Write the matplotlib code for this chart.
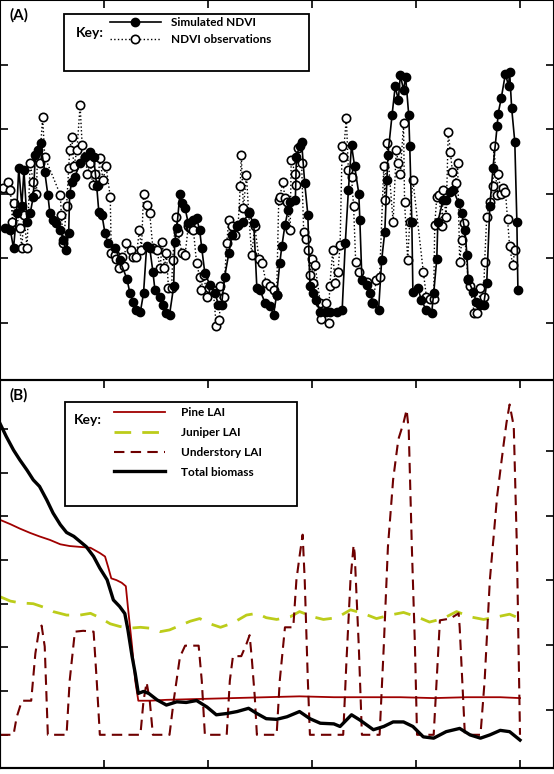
import matplotlib
matplotlib.use("Agg")
import matplotlib.pyplot as plt
from matplotlib.patches import Rectangle

# ---- Panel A data (x in years, NDVI) ----
sim_x = [0.05,0.10,0.13,0.16,0.18,0.21,0.23,0.26,0.29,0.32,0.34,0.37,0.39,0.43,0.46,0.48,0.51,0.54,0.58,0.61,0.63,0.66,0.67,0.69,0.72,0.77,0.82,0.87,0.90,0.93,0.95,0.98,1.01,1.04,1.11,1.15,1.22,1.25,1.28,1.31,1.35,1.38,1.41,1.44,1.47,1.49,1.54,1.57,1.60,1.63,1.67,1.68,1.70,1.73,1.75,1.78,1.81,1.86,1.89,1.92,1.94,1.97,2.02,2.07,2.10,2.13,2.16,2.20,2.23,2.28,2.34,2.39,2.44,2.47,2.50,2.55,2.60,2.63,2.66,2.69,2.71,2.74,2.77,2.79,2.84,2.85,2.88,2.90,2.93,2.96,2.98,3.01,3.04,3.08,3.13,3.17,3.24,3.29,3.32,3.35,3.38,3.41,3.45,3.46,3.48,3.53,3.56,3.59,3.64,3.67,3.70,3.72,3.73,3.77,3.80,3.83,3.85,3.88,3.90,3.93,3.94,3.96,3.97,4.02,4.05,4.10,4.15,4.17,4.20,4.21,4.26,4.29,4.33,4.36,4.41,4.44,4.47,4.49,4.50,4.55,4.58,4.62,4.65,4.68,4.71,4.74,4.78,4.79,4.82,4.86,4.89,4.90,4.92,4.95,4.97,4.98]
sim_y = [0.246,0.243,0.215,0.269,0.339,0.280,0.336,0.256,0.269,0.295,0.360,0.367,0.378,0.334,0.298,0.269,0.259,0.254,0.243,0.228,0.212,0.238,0.300,0.318,0.326,0.347,0.357,0.365,0.357,0.311,0.272,0.267,0.238,0.223,0.215,0.197,0.168,0.145,0.132,0.119,0.117,0.145,0.218,0.215,0.179,0.150,0.140,0.127,0.114,0.112,0.156,0.225,0.246,0.300,0.285,0.277,0.254,0.259,0.262,0.243,0.215,0.176,0.158,0.145,0.127,0.127,0.171,0.207,0.236,0.249,0.256,0.269,0.254,0.153,0.150,0.130,0.125,0.112,0.143,0.192,0.218,0.251,0.274,0.287,0.290,0.357,0.373,0.380,0.316,0.267,0.156,0.145,0.135,0.117,0.117,0.117,0.117,0.119,0.223,0.305,0.375,0.342,0.300,0.259,0.166,0.158,0.145,0.130,0.119,0.197,0.241,0.321,0.360,0.422,0.466,0.445,0.484,0.460,0.481,0.422,0.373,0.256,0.148,0.153,0.135,0.119,0.114,0.145,0.199,0.256,0.290,0.290,0.303,0.305,0.285,0.269,0.243,0.205,0.166,0.148,0.132,0.127,0.127,0.161,0.280,0.339,0.404,0.424,0.448,0.486,0.466,0.489,0.432,0.380,0.256,0.150]

obs_x = [0.03,0.08,0.10,0.12,0.13,0.19,0.21,0.23,0.26,0.29,0.32,0.35,0.36,0.38,0.41,0.43,0.58,0.59,0.61,0.64,0.66,0.67,0.69,0.71,0.74,0.77,0.79,0.82,0.84,0.87,0.89,0.91,0.94,0.96,0.99,1.02,1.06,1.07,1.11,1.12,1.14,1.17,1.19,1.21,1.26,1.28,1.31,1.34,1.36,1.38,1.41,1.44,1.47,1.51,1.54,1.56,1.58,1.60,1.62,1.65,1.66,1.69,1.71,1.75,1.78,1.81,1.83,1.84,1.86,1.89,1.92,1.93,1.96,1.99,2.01,2.05,2.08,2.11,2.12,2.15,2.18,2.20,2.23,2.26,2.29,2.31,2.32,2.34,2.37,2.39,2.42,2.45,2.49,2.52,2.56,2.60,2.63,2.66,2.68,2.69,2.72,2.74,2.76,2.79,2.80,2.84,2.85,2.87,2.90,2.92,2.94,2.96,2.98,3.00,3.01,3.03,3.08,3.09,3.13,3.16,3.17,3.20,3.22,3.25,3.27,3.29,3.30,3.33,3.35,3.38,3.40,3.42,3.45,3.53,3.58,3.62,3.65,3.69,3.70,3.72,3.78,3.81,3.83,3.85,3.88,3.89,3.92,3.94,3.97,4.07,4.10,4.13,4.17,4.18,4.20,4.22,4.25,4.26,4.29,4.31,4.33,4.35,4.38,4.40,4.42,4.44,4.46,4.50,4.52,4.56,4.59,4.62,4.65,4.66,4.68,4.71,4.74,4.75,4.78,4.79,4.82,4.84,4.86,4.88,4.90,4.93,4.95]
obs_y = [0.308,0.318,0.305,0.256,0.285,0.246,0.215,0.267,0.215,0.347,0.318,0.300,0.357,0.347,0.419,0.357,0.298,0.267,0.223,0.280,0.339,0.367,0.388,0.342,0.367,0.437,0.375,0.357,0.331,0.347,0.313,0.331,0.313,0.355,0.321,0.342,0.295,0.207,0.205,0.199,0.184,0.202,0.187,0.223,0.212,0.202,0.202,0.243,0.212,0.300,0.282,0.269,0.215,0.212,0.184,0.225,0.184,0.207,0.153,0.153,0.197,0.264,0.241,0.207,0.205,0.249,0.246,0.246,0.243,0.192,0.171,0.150,0.174,0.140,0.153,0.150,0.094,0.104,0.156,0.140,0.223,0.259,0.249,0.236,0.251,0.311,0.360,0.277,0.329,0.272,0.205,0.249,0.199,0.192,0.161,0.156,0.150,0.143,0.290,0.295,0.318,0.293,0.287,0.243,0.352,0.331,0.313,0.370,0.347,0.241,0.230,0.212,0.174,0.199,0.161,0.189,0.130,0.106,0.130,0.099,0.156,0.212,0.161,0.179,0.220,0.373,0.357,0.417,0.336,0.326,0.280,0.194,0.179,0.163,0.130,0.166,0.171,0.342,0.290,0.378,0.256,0.367,0.347,0.331,0.409,0.287,0.197,0.256,0.321,0.179,0.140,0.137,0.137,0.251,0.295,0.298,0.249,0.305,0.264,0.396,0.365,0.334,0.316,0.347,0.194,0.228,0.254,0.168,0.156,0.114,0.114,0.153,0.140,0.194,0.264,0.287,0.311,0.373,0.298,0.331,0.300,0.308,0.303,0.261,0.218,0.189,0.212]

# ---- Panel B data ----
pine_x = [0.00,0.10,0.19,0.29,0.38,0.48,0.58,0.67,0.77,0.87,0.96,1.01,1.04,1.07,1.12,1.17,1.21,1.23,1.27,1.30,1.33,1.44,1.60,1.92,2.24,2.56,2.88,3.21,3.53,3.85,4.17,4.49,4.81,5.00]
pine_y = [2.46,2.41,2.36,2.31,2.27,2.23,2.18,2.16,2.15,2.14,2.08,2.04,1.92,1.79,1.77,1.74,1.70,1.46,1.01,0.62,0.39,0.39,0.40,0.41,0.42,0.43,0.44,0.43,0.43,0.43,0.42,0.43,0.43,0.42]

jun_x = [0.00,0.10,0.19,0.32,0.42,0.51,0.64,0.77,0.87,0.96,1.06,1.15,1.25,1.35,1.44,1.54,1.63,1.73,1.83,1.92,2.02,2.12,2.24,2.37,2.47,2.56,2.66,2.79,2.88,3.01,3.11,3.24,3.37,3.49,3.62,3.75,3.88,4.01,4.13,4.26,4.39,4.52,4.65,4.78,4.90,5.00]
jun_y = [1.58,1.53,1.51,1.50,1.46,1.41,1.37,1.37,1.39,1.34,1.27,1.24,1.22,1.23,1.22,1.18,1.20,1.25,1.30,1.33,1.27,1.23,1.28,1.37,1.39,1.34,1.32,1.35,1.41,1.35,1.32,1.34,1.43,1.39,1.33,1.37,1.40,1.35,1.29,1.33,1.41,1.35,1.32,1.35,1.38,1.33]

und_x = [0.00,0.13,0.16,0.21,0.30,0.34,0.37,0.40,0.43,0.46,0.64,0.67,0.72,0.80,0.90,0.93,0.96,1.35,1.38,1.41,1.44,1.47,1.63,1.67,1.73,1.78,1.91,1.94,1.97,2.18,2.21,2.24,2.32,2.37,2.40,2.42,2.45,2.47,2.66,2.69,2.74,2.82,2.85,2.88,2.91,2.93,2.96,2.98,3.30,3.33,3.37,3.40,3.41,3.45,3.48,3.65,3.69,3.73,3.78,3.83,3.88,3.91,3.93,3.96,3.99,4.01,4.17,4.23,4.33,4.41,4.42,4.47,4.62,4.66,4.71,4.78,4.84,4.87,4.90,4.94,4.97,5.00]
und_y = [0.00,0.00,0.20,0.39,0.39,0.93,1.16,1.25,1.01,0.00,0.00,0.62,1.18,1.19,1.18,0.62,0.00,0.00,0.39,0.60,0.39,0.00,0.00,0.39,0.89,1.02,1.02,0.62,0.00,0.00,0.62,0.90,0.90,1.04,1.14,0.89,0.43,0.00,0.00,0.62,1.23,1.23,1.77,2.04,2.29,1.77,0.62,0.00,0.00,0.81,1.77,2.17,2.08,1.01,0.00,0.00,1.01,2.15,2.92,3.38,3.57,3.72,3.49,2.15,1.01,0.00,0.00,1.31,1.33,1.39,1.23,0.00,0.00,0.62,1.77,2.73,3.30,3.57,3.78,3.53,2.15,0.00]

bio_x = [0.00,0.06,0.13,0.19,0.26,0.32,0.38,0.45,0.51,0.58,0.64,0.71,0.77,0.83,0.90,0.96,1.03,1.09,1.15,1.20,1.23,1.27,1.30,1.33,1.38,1.43,1.51,1.60,1.70,1.79,1.89,1.99,2.08,2.18,2.28,2.39,2.47,2.56,2.66,2.76,2.88,2.98,3.08,3.21,3.27,3.38,3.46,3.59,3.69,3.78,3.88,3.97,4.07,4.17,4.29,4.42,4.52,4.62,4.71,4.81,4.90,5.00]
bio_y = [5.42,5.22,5.01,4.86,4.70,4.55,4.45,4.24,4.04,3.86,3.74,3.68,3.60,3.52,3.37,3.19,3.01,2.70,2.60,2.49,2.24,1.83,1.57,1.26,1.29,1.26,1.16,1.08,1.13,1.12,1.15,1.05,0.93,0.95,0.98,1.03,0.95,0.87,0.86,0.90,0.98,0.87,0.80,0.79,0.75,0.93,0.85,0.70,0.75,0.82,0.82,0.75,0.59,0.57,0.67,0.72,0.62,0.57,0.62,0.69,0.67,0.54]

FONT = "Lato"
plt.rcParams['font.family'] = [FONT, 'DejaVu Sans']
plt.rcParams['font.weight'] = 'bold'

W, H = 554, 774
fig = plt.figure(figsize=(W/100, H/100), dpi=100)

def style(ax, right=True):
    for s in ax.spines.values():
        s.set_linewidth(1.5)
    ax.tick_params(direction='in', length=6, width=1.2, top=True, bottom=True,
                   left=True, right=right, labelleft=False, labelbottom=False,
                   labeltop=False, labelright=False)

def px_box(ax, x0, y0, x1, y1, top, bot):
    # draw frame in figure pixel coordinates converted to axes fraction
    h = bot - top
    r = Rectangle((x0/W, 1-(y1-top)/h), (x1-x0)/W, (y1-y0)/h, transform=ax.transAxes,
                  fill=True, facecolor='white', edgecolor='black', lw=1.3, zorder=5,
                  clip_on=False)
    ax.add_patch(r)

xmax = 554/104
# Panel A
axA = fig.add_axes([0.0, 1-387/H, 1.0, 387/H])
axA.plot(sim_x, sim_y, '-', color='black', lw=1.2, marker='o', ms=6,
         mfc='black', mec='black', zorder=3, label='Simulated NDVI')
axA.plot(obs_x, obs_y, ':', color='black', lw=1.0, marker='o', ms=6,
         mfc='white', mec='black', mew=1.2, zorder=2, label='NDVI observations')
axA.set_xlim(0, xmax)
axA.set_ylim(0, 0.6)
axA.set_xticks([1, 2, 3, 4, 5])
axA.set_yticks([0.1, 0.2, 0.3, 0.4, 0.5])
style(axA)
px_box(axA, 64, 14, 309, 71, 0, 387)
legA = axA.legend(loc='upper left', bbox_to_anchor=(110/W, 1-17/387),
                  frameon=False, handlelength=4.3, borderpad=0, borderaxespad=0,
                  prop={'family': FONT, 'weight': 'bold', 'size': 8.5},
                  labelspacing=0.55, handletextpad=0.9)
legA.set_zorder(6)
axA.text(76/W, 1-33/387, 'Key:', transform=axA.transAxes, fontsize=10,
         fontweight='bold', va='center', ha='left', zorder=7)
axA.text(10/W, 1-8/387, '(A)', transform=axA.transAxes, fontsize=11,
         fontweight='bold', va='top', ha='left')

# Panel B
top_b, bot_b = 380, 768
axB = fig.add_axes([0.0, 1-bot_b/H, 1.0, (bot_b-top_b)/H])
axB.plot(pine_x, pine_y, '-', color='#a00000', lw=1.3, label='Pine LAI')
axB.plot(jun_x, jun_y, '--', color='#bccc1a', lw=2.0, dashes=(6, 4), label='Juniper LAI')
axB.plot(und_x, und_y, '--', color='#6e0000', lw=1.5, dashes=(5, 3), label='Understory LAI')
axB2 = axB.twinx()
axB2.plot(bio_x, bio_y, '-', color='black', lw=2.4, label='Total biomass')
axB.set_xlim(0, xmax)
axB.set_ylim(-0.38, 4.06)
axB.set_yticks([0, 0.5, 1.0, 1.5, 2.0, 2.5, 3.0, 3.5])
axB.set_xticks([1, 2, 3, 4, 5])
axB2.set_ylim(0.11, 6.09)
axB2.set_yticks([1, 2, 3, 4, 5])
style(axB, right=False)
for s in axB2.spines.values():
    s.set_linewidth(1.5)
axB2.tick_params(direction='in', length=6, width=1.2, labelright=False)
px_box(axB2, 65, 402, 297, 506, top_b, bot_b)
handles = axB.get_lines() + axB2.get_lines()
legB = axB2.legend(handles, [h.get_label() for h in handles], loc='upper left',
                   bbox_to_anchor=(114/W, 1-(407-top_b)/(bot_b-top_b)),
                   frameon=False, handlelength=4.3, borderpad=0, borderaxespad=0,
                   prop={'family': FONT, 'weight': 'bold', 'size': 8.5},
                   labelspacing=0.75, handletextpad=1.4)
legB.set_zorder(6)
axB2.text(74/W, 1-(420-top_b)/(bot_b-top_b), 'Key:', transform=axB2.transAxes,
          fontsize=10, fontweight='bold', va='center', ha='left', zorder=7)
axB2.text(10/W, 1-8/(bot_b-top_b), '(B)', transform=axB2.transAxes, fontsize=11,
          fontweight='bold', va='top', ha='left')

fig.savefig('out.png', dpi=100)
